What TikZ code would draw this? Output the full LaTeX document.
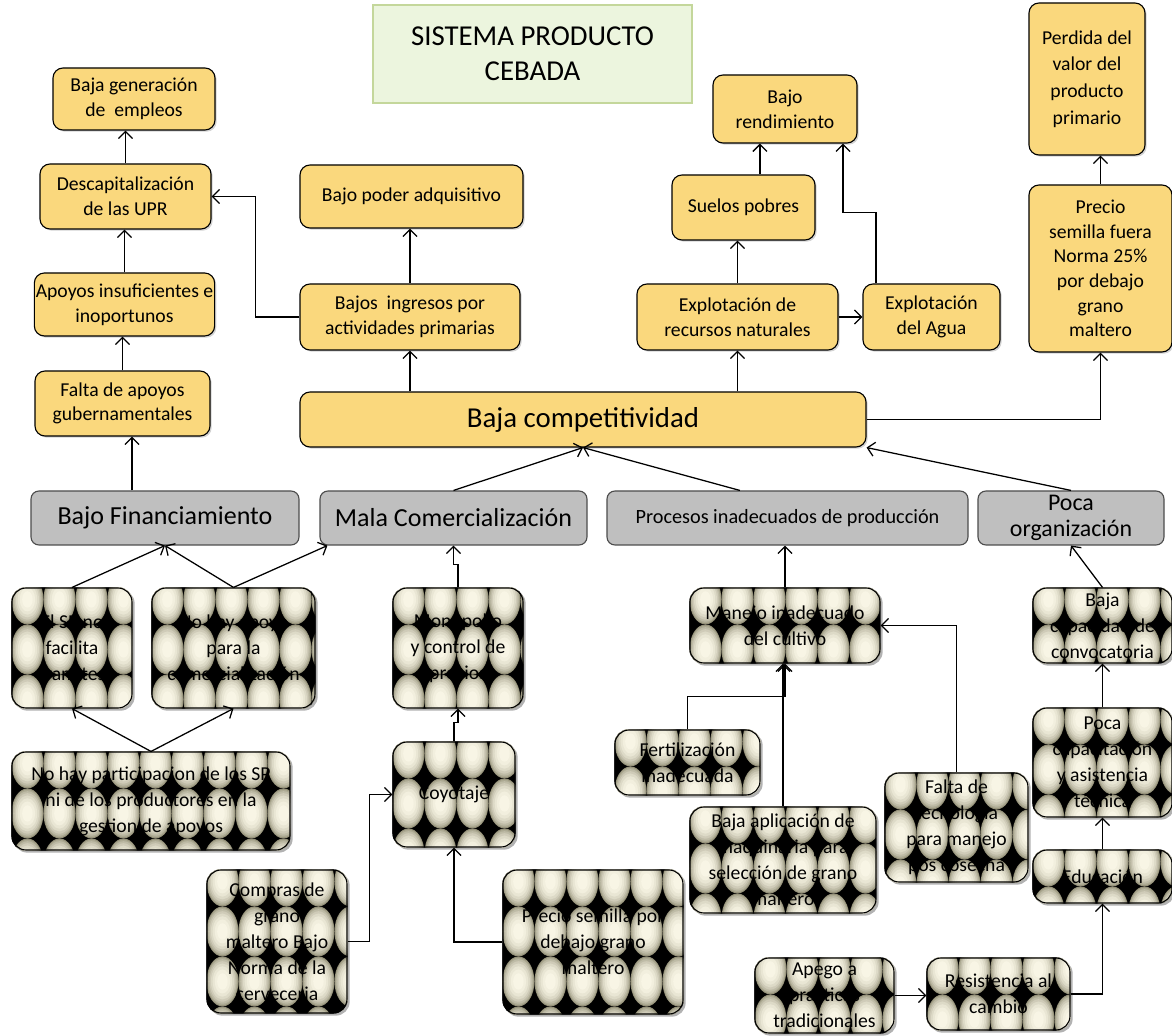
\documentclass[tikz,border=0pt]{standalone}
\usepackage{fontspec}
\setmainfont{Carlito}
\usetikzlibrary{arrows.meta}
\usetikzlibrary{shadows}
\usetikzlibrary{backgrounds}
\usetikzlibrary{calc}

\definecolor{amarillo}{RGB}{250,216,125}
\definecolor{gris}{RGB}{191,191,191}
\definecolor{verdeclaro}{RGB}{236,245,222}
\definecolor{verdeborde}{RGB}{196,215,155}
\definecolor{crema}{RGB}{251,248,232}
\definecolor{caqui}{RGB}{150,146,122}

\begin{document}
\begin{tikzpicture}[x=0.025cm,y=-0.025cm,
    sz/.style 2 args={minimum width=#1*0.025cm,minimum height=#2*0.025cm},
    caja/.style={draw=black,line width=0.8pt,rounded corners=0.25cm,align=center,inner sep=1pt,
      font=\fontsize{14}{17.5}\selectfont},
    amar/.style={caja,fill=amarillo,drop shadow={shadow xshift=1.2pt,shadow yshift=-1.2pt,opacity=0.35}},
    grisbox/.style={draw=black!70,line width=0.8pt,rounded corners=0.2cm,fill=gris,align=center,inner sep=1pt},
    titulo/.style={draw=verdeborde,line width=1.2pt,fill=verdeclaro,align=center,
      font=\fontsize{20.5}{25}\selectfont},
    bolas/.style={caja,rounded corners=0.35cm,inner sep=0pt,font=\fontsize{14}{18.5}\selectfont},
    flecha/.style={-{Straight Barb[length=5pt,width=10pt]},line width=0.9pt},
  ]
    \useasboundingbox (0,0) rectangle (1172,1036);

    \node[titulo, sz={319}{98}] (titulo) at (532.5,54) {SISTEMA PRODUCTO\\CEBADA};

    % efectos
    \node[amar, sz={162}{62}] (gen) at (134,99) {Baja generación\\de~ empleos};
    \node[amar, sz={171}{65}] (descap) at (125.5,196.5) {Descapitalización\\de las UPR};
    \node[amar, sz={175}{63}] (apoyins) at (124.5,304.5) {Apoyos insuficientes e\\inoportunos};
    \node[amar, sz={175}{65}] (faltaap) at (122.5,403.5) {Falta de apoyos\\gubernamentales};
    \node[amar, sz={223}{63}] (poder) at (411.5,196.5) {Bajo poder adquisitivo};
    \node[amar, sz={220}{66}] (ingresos) at (410,317) {Bajos~ ingresos por\\actividades primarias};
    \node[amar, sz={144}{68}] (rend) at (785,109) {Bajo\\rendimiento};
    \node[amar, sz={143}{65}] (suelos) at (743.5,207.5) {Suelos pobres};
    \node[amar, sz={201}{66}] (recursos) at (737.5,317) {Explotación de\\recursos naturales};
    \node[amar, sz={137}{66}] (agua) at (931.5,317) {Explotación\\del Agua};
    \node[amar, sz={116}{152}, font=\fontsize{14}{19}\selectfont] (perdida) at (1087,79) {Perdida del\\valor del\\producto\\primario};
    \node[amar, sz={143}{167}] (precio) at (1100.5,268.5) {Precio\\semilla fuera\\Norma 25\%\\por debajo\\grano\\maltero};
    \node[amar, sz={566}{55}, font=\fontsize{20.5}{24}\selectfont] (comp) at (583,419.5) {Baja competitividad};

    % causas
    \node[grisbox, sz={268}{54}, font=\fontsize{18.5}{22}\selectfont] (financ) at (165,518) {Bajo Financiamiento};
    \node[grisbox, sz={267}{54}, font=\fontsize{18.5}{22}\selectfont] (comerc) at (453.5,518) {Mala Comercialización};
    \node[grisbox, sz={361}{54}, font=\fontsize{14.4}{17}\selectfont] (procesos) at (787.5,518) {Procesos inadecuados de producción};
    \node[grisbox, sz={186}{54}, inner sep=0pt, font=\fontsize{17}{19}\selectfont] (poca) at (1071,518) {Poca\\organización};

    \node[bolas, sz={120}{120}] (elsp) at (72,648) {El SP no\\facilita\\tramites};
    \node[bolas, sz={163}{120}] (noapoyo) at (233.5,648) {No hay apoyo\\para la\\comercialización};
    \node[bolas, sz={278}{98}] (nopart) at (151,801) {No hay participacion de los SP\\ni de los productores en la\\gestion de apoyos};
    \node[bolas, sz={130}{120}] (monop) at (458,648) {Monopolio\\y control de\\precios};
    \node[bolas, sz={122}{105}] (coyo) at (454,794.5) {Coyotaje};
    \node[bolas, sz={140}{143}] (compras) at (277,941.5) {Compras de\\grano\\maltero Bajo\\Norma de la\\cerveceria};
    \node[bolas, sz={180}{144}] (preciosem) at (593,942) {Precio semilla por\\debajo grano\\maltero};
    \node[bolas, sz={190}{75}] (manejo) at (785,625.5) {Manejo inadecuado\\del cultivo};
    \node[bolas, sz={145}{65}] (fert) at (687.5,762.5) {Fertilización\\inadecuada};
    \node[bolas, sz={186}{106}] (maquin) at (783,860) {Baja aplicación de\\maquinaria para\\selección de grano\\maltero};
    \node[bolas, sz={143}{109}] (tecno) at (956.5,827.5) {Falta de\\tecnologia\\para manejo\\pos cosecha};
    \node[bolas, sz={139}{75}] (convoc) at (1102.5,625.5) {Baja\\capacidad de\\convocatoria};
    \node[bolas, sz={139}{109}] (capac) at (1102.5,762.5) {Poca\\capacitación\\y asistencia\\técnica};
    \node[bolas, sz={139}{53}] (educ) at (1102.5,876.5) {Educación};
    \node[bolas, sz={139}{75}] (apego) at (824.5,995.5) {Apego a\\practicas\\tradicionales};
    \node[bolas, sz={143}{72}] (resist) at (998.5,994) {Resistencia al\\cambio};

    % relleno de bolas detras de las cajas
    \begin{scope}[on background layer]
      \foreach \n in {elsp,noapoyo,nopart,monop,coyo,compras,preciosem,manejo,fert,maquin,tecno,convoc,capac,educ,apego,resist} {
        \fill[black,opacity=0.3,rounded corners=0.35cm] ([shift={(1.5pt,-1.5pt)}]\n.south west) rectangle ([shift={(1.5pt,-1.5pt)}]\n.north east);
        \begin{scope}
          \clip[rounded corners=0.35cm] (\n.south west) rectangle (\n.north east);
          \fill[black] (\n.south west) rectangle (\n.north east);
          \foreach \i in {0,...,8}
            \foreach \j in {0,...,3}
              \foreach \r/\p in {1/0,0.95/22,0.89/40,0.81/56,0.72/70,0.61/82,0.48/91,0.33/97}
                \fill[crema!\p!caqui] ([xshift=\i*0.8cm+0.4cm,yshift=-\j*1.25cm-0.3cm]\n.north west) ellipse [x radius=\r*0.4cm,y radius=\r*0.625cm];
        \end{scope}
      }
    \end{scope}

    % flechas arriba
    \draw[flecha] ([xshift=-0.825cm]financ.north) -- ([xshift=-0.825cm]financ.north |- faltaap.south);
    \draw[flecha] (faltaap.north) -- (faltaap.north |- apoyins.south);
    \draw[flecha] (apoyins.north) -- (apoyins.north |- descap.south);
    \draw[flecha] (descap.north) -- (descap.north |- gen.south);
    \draw[flecha] (ingresos.west) -- ++(-44,0) |- (descap.east);
    \draw[flecha] (ingresos.north) -- (ingresos.north |- poder.south);
    \draw[flecha] (ingresos.south |- comp.north) -- (ingresos.south);
    \draw[flecha] (recursos.south |- comp.north) -- (recursos.south);
    \draw[flecha] (recursos.north) -- (recursos.north |- suelos.south);
    \draw[flecha] ([xshift=0.41cm]suelos.north) -- ([xshift=0.41cm]suelos.north |- rend.south);
    \draw[flecha] (recursos.east) -- (agua.west);
    \draw[flecha] ([xshift=-1.39cm]agua.north) -- ++(0,-71) -| ([xshift=1.45cm]rend.south);
    \draw[flecha] (comp.east) -| (precio.south);
    \draw[flecha] (precio.north) -- (precio.north |- perdida.south);

    % flechas de causas
    \draw[flecha] (comerc.north) -- (comp.south);
    \draw[flecha] ([xshift=-1.19cm]procesos.north) -- (comp.south);
    \draw[flecha] (poca.north) -- (comp.south east);
    \draw[flecha] (elsp.north) -- (financ.south);
    \draw[flecha] (noapoyo.north) -- (financ.south);
    \draw[flecha] (noapoyo.north) -- ([xshift=0.2cm]comerc.south west);
    \draw[flecha] (nopart.north) -- (elsp.south);
    \draw[flecha] (nopart.north) -- (noapoyo.south);
    \draw[flecha] (monop.north) -- ++(0,-23) -| (comerc.south);
    \draw[flecha] (coyo.north) -- ++(0,-19) -| (monop.south);
    \draw[flecha] (compras.east) -- ++(22,0) |- (coyo.west);
    \draw[flecha] (preciosem.west) -| (coyo.south);
    \draw[flecha] (manejo.north) -- (manejo.north |- procesos.south);
    \draw[flecha] (fert.north) -- ++(0,-33) -| (manejo.south);
    \draw[flecha] (maquin.north) -- (maquin.north |- manejo.south);
    \draw[flecha] (tecno.north) |- (manejo.east);
    \draw[flecha] (convoc.north) -- (poca.south);
    \draw[flecha] (capac.north) -- (capac.north |- convoc.south);
    \draw[flecha] (educ.north) -- (educ.north |- capac.south);
    \draw[flecha] (apego.east) -- (apego.east -| resist.west);
    \draw[flecha] (resist.east) -| (educ.south);
\end{tikzpicture}
\end{document}
